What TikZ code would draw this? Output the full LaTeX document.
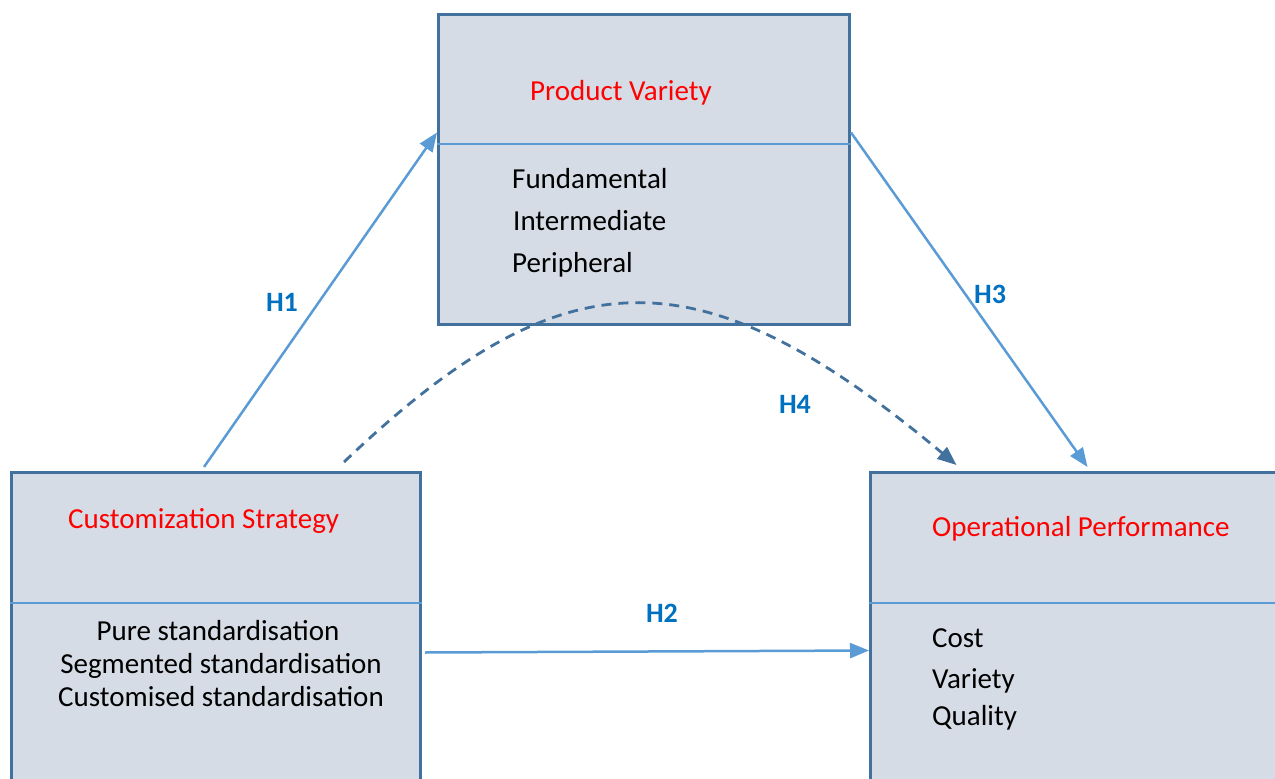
\documentclass[tikz,border=0pt]{standalone}
\usepackage{fontspec}
\setmainfont{Carlito}
\usetikzlibrary{arrows.meta, positioning}
\definecolor{boxfill}{HTML}{D6DCE5}
\definecolor{boxline}{HTML}{41719C}
\definecolor{linkblue}{HTML}{5B9BD5}
\definecolor{hypblue}{HTML}{0070C0}
\tikzset{
  block/.style={
    rectangle,
    draw=boxline,
    fill=boxfill,
    line width=3pt,
    anchor=north west,
    inner sep=0pt
  },
  divider/.style={draw=linkblue, line width=2.2pt},
  heading/.style={text=red, font=\fontsize{29}{35}\selectfont, inner sep=0pt},
  item/.style={font=\fontsize{29}{35}\selectfont, inner sep=0pt},
  link/.style={-{Triangle[length=19pt,width=15pt]}, draw=linkblue, line width=2.5pt},
  dashlink/.style={-{Triangle[length=19pt,width=15pt]}, draw=boxline, line width=2.8pt,
    dash pattern=on 10pt off 7pt},
  hyp/.style={text=hypblue, font=\fontsize{28}{32}\selectfont\bfseries}
}

\begin{document}
\begin{tikzpicture}[x=1pt,y=-1pt]
\useasboundingbox (0,0) rectangle (1275,779);
\clip (0,0) rectangle (1275,779);

% the three constructs
\node[block, minimum width=411, minimum height=310] (pvbox) at (437,13) {};
\node[block, minimum width=409, minimum height=340] (csbox) at (10,471) {};
\node[block, minimum width=430, minimum height=340] (opbox) at (869,471) {};

\draw[divider] (pvbox.west |- 0,144) -- (pvbox.east |- 0,144);
\draw[divider] (csbox.west |- 0,603) -- (csbox.east |- 0,603);
\draw[divider] (opbox.west |- 0,603) -- (opbox.east |- 0,603);

% titles
\node[heading, anchor=base west] (pvtitle) at (530,100) {Product Variety};
\node[heading, anchor=base west] (cstitle) at (68,528) {Customization Strategy};
\node[heading, anchor=base west] (optitle) at (932,536) {Operational Performance};

% dimensions
\node[item, anchor=base west] (fund) at (512,188) {Fundamental};
\node[item, anchor=base west] (inter) at (513,230) {Intermediate};
\node[item, anchor=base west] (peri) at (512,272) {Peripheral};

\node[item, anchor=base] (pure) at (218,640) {Pure standardisation};
\node[item, anchor=base] (segm) at (221,673) {Segmented standardisation};
\node[item, anchor=base] (cust) at (221,706) {Customised standardisation};

\node[item, anchor=base west] (cost) at (932,647) {Cost};
\node[item, anchor=base west] (vari) at (932,688) {Variety};
\node[item, anchor=base west] (qual) at (932,725) {Quality};

% hypotheses
\draw[link] ([xshift=-12pt,yshift=4pt]csbox.north) -- ([yshift=37pt]pvbox.west);
\draw[link] ([yshift=37pt]pvbox.east) -- ([xshift=2pt,yshift=4pt]opbox.north);
\draw[link] ([xshift=3pt,yshift=-10pt]csbox.east) -- ([yshift=-8pt]opbox.west);
\draw[dashlink] ([xshift=128pt,yshift=9pt]csbox.north)
  .. controls (565,251) and (700,251) .. ([xshift=-129pt,yshift=6pt]opbox.north);

\node[hyp] (h1) at (282,302) {H1};
\node[hyp] (h2) at (662,613) {H2};
\node[hyp] (h3) at (990,294) {H3};
\node[hyp] (h4) at (795,404) {H4};
\end{tikzpicture}
\end{document}
